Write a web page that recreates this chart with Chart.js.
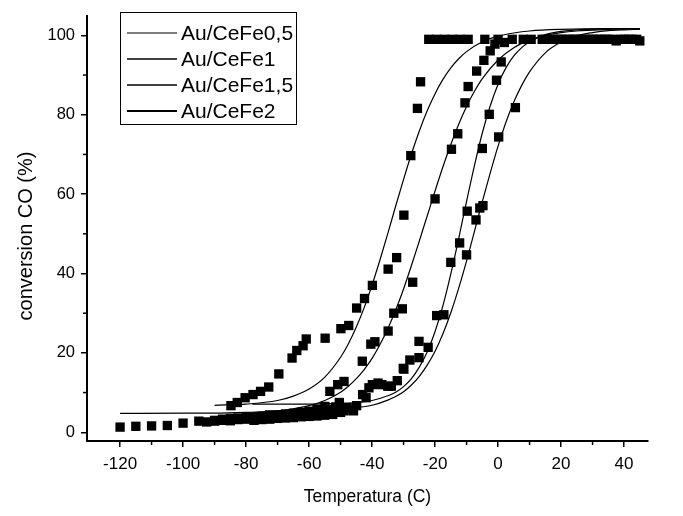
<!DOCTYPE html>
<html><head><meta charset="utf-8">
<script src="https://cdn.jsdelivr.net/npm/chart.js@4/dist/chart.umd.min.js"></script>
<style>html,body{margin:0;padding:0;background:#fff}canvas{display:block}</style>
</head><body>
<canvas id="c" width="683" height="516"></canvas>
<script>
// ---- names and tick labels ----
const seriesNames = ['Au/CeFe0,5', 'Au/CeFe1', 'Au/CeFe1,5', 'Au/CeFe2'];
const xTitle = 'Temperatura (C)';
const yTitle = 'conversion CO (%)';
const xTicks = [-120, -100, -80, -60, -40, -20, 0, 20, 40];
const yTicks = [0, 20, 40, 60, 80, 100];
const xMinor = [-110, -90, -70, -50, -30, -10, 10, 30];
const yMinor = [10, 30, 50, 70, 90];

// ---- measured points (temperature, conversion) ----
const xA = [-84.8,-82.8,-80.3,-77.8,-75.4,-72.8,-69.6,-65.4,-63.9,-61.9,-60.9,-54.9,-49.9,-47.4,-44.9,-42.4,-39.9,-34.9,-32.2,-29.9,-27.7,-25.6,-24.6,-22,-19.5,-17,-14.5,-12,-9.5];
const yA = [6.7,7.5,8.7,9.5,10.3,11.4,14.7,18.7,20.6,21.8,23.5,23.7,26.1,26.9,31.3,33.7,37,41.1,44,54.7,69.7,81.6,88.3,99,99,99,99,99,99];

const xB = [-120,-115,-110,-105,-100,-95,-90,-87.5,-85,-82.5,-80,-77.5,-75,-72.5,-70,-67.5,-65,-62.5,-60,-57.5,-55,-53.4,-50.9,-48.9,-43.1,-40.4,-39.1,-34.9,-33.1,-30.4,-27.1,-20,-14.8,-12.8,-10.5,-9.5,-6.8,-4.5,-2.5,-1,0];
const yB = [1.3,1.5,1.6,1.7,2.3,2.8,3.0,3.3,3.5,3.6,3.8,3.9,4.0,4.2,4.3,4.6,4.8,5.0,5.3,5.8,6.5,10.3,12.0,12.8,17.9,22.2,22.8,25.5,30.0,31.1,37.8,58.8,71.3,75.2,83.0,87.1,91.0,93.7,96.1,97.8,99];

const xC = [-76.3,-73.9,-71.5,-69.4,-67,-65.4,-63,-61.9,-60,-57.9,-55.5,-53.9,-51.5,-50.4,-47.9,-45.9,-44.9,-41.9,-39.9,-36.9,-33.9,-30.1,-28,-25.1,-19.5,-15,-12.2,-9.8,-5,-4.2,-2.8,-0.5,1,2,4.5,8,14,16.5,19,21.5,24,26.5,29,31.5,34,36.5,39,41.5,44];
const yC = [3.4,3.8,4.1,4.2,4.4,4.2,4.5,4.6,4.9,4.6,5.0,5.8,6.4,7.5,6.2,5.4,6.7,8.7,12.0,12.0,11.6,16.1,18.2,22.9,29.4,42.8,47.7,55.7,71.5,99,80.1,88.7,93.3,98.2,99,99,99,99,99,99,99,99,99,99,99,99,99,99,99];

const xD = [-92.5,-90,-87.5,-85,-82.5,-80,-77.5,-75,-72.5,-70,-67.5,-65,-62.5,-60,-57.5,-55,-52.5,-50,-48.9,-46,-43,-41,-38.1,-35,-32,-29.9,-25.1,-22.2,-17.2,-10,-7,-5.8,-4.8,0.2,5.5,10.5,15,17.5,20,22.5,25,27.5,30,32.5,35,37.5,40,42.5,45];
const yD = [2.6,2.8,3.0,2.9,3.2,3.3,3.0,3.2,3.3,3.5,3.6,3.7,3.9,4.0,4.1,4.3,4.5,5.0,5.4,5.6,9.5,11.2,12.4,11.6,13.0,15.9,18.8,21.4,29.6,44.7,53.5,56.5,57.1,74.4,81.8,99,99,99,99,99,99,99,99,99,99,98.6,99,99,98.6];

// ---- fitted curves ----
const fitAx = [-90,-80,-70,-65,-60,-55,-50,-47.5,-45,-42.5,-40,-37.5,-35,-32.5,-30,-27.5,-25,-22.5,-20,-17.5,-15,-12.5,-10,-5,0,5,10,20,35,45];
const fitAy = [6.8,7.1,8.0,9.1,10.9,13.9,18.9,22.3,26.5,31.4,37.1,43.4,50.1,57.0,63.7,70.1,75.9,81.0,85.3,88.9,91.8,94.1,95.9,98.4,99.8,100.6,101.1,101.5,101.7,101.7];

const fitBx = [-120,-100,-90,-80,-70,-65,-60,-55,-50,-47.5,-45,-42.5,-40,-37.5,-35,-32.5,-30,-27.5,-25,-22.5,-20,-17.5,-15,-12.5,-10,-7.5,-5,0,5,10,15,20,25,30,35,45];
const fitBy = [4.75,4.8,4.8,5.0,5.4,5.9,6.7,8.0,10.1,11.6,13.5,15.8,18.6,22.1,26.1,30.8,36.1,42.0,48.2,54.5,60.8,66.9,72.5,77.6,82.1,85.9,89.1,93.8,96.9,98.8,100.0,100.7,101.1,101.3,101.5,101.65];

const fitCx = [-78,-70,-60,-55,-50,-45,-40,-35,-32.5,-30,-27.5,-25,-22.5,-20,-17.5,-15,-12.5,-10,-7.5,-5,-2.5,0,2.5,5,7.5,10,15,20,25,35,45];
const fitCy = [7.1,7.1,7.1,7.2,7.3,7.5,8.0,9.2,10.1,11.5,13.5,16.4,20.2,25.4,31.9,39.9,48.8,58.2,67.2,75.4,82.2,87.7,91.8,94.8,96.9,98.4,100.2,101.0,101.4,101.6,101.7];

const fitDx = [-74,-70,-60,-55,-50,-45,-40,-35,-32.5,-30,-27.5,-25,-22.5,-20,-17.5,-15,-12.5,-10,-7.5,-5,-2.5,0,2.5,5,7.5,10,15,20,25,30,35,40,45];
const fitDy = [5.4,5.4,5.5,5.6,5.8,6.2,6.8,8.1,9.0,10.2,11.9,14.1,16.9,20.4,24.8,30.1,36.3,43.2,50.6,58.1,65.3,72.1,78.1,83.2,87.4,90.8,95.6,98.3,99.9,100.7,101.2,101.4,101.5];

const pts = (xs, ys) => xs.map((x, i) => ({x, y: ys[i]}));
const legendWidths = [1.0, 1.6, 1.3, 1.8];

const fitSets = [[fitAx, fitAy], [fitBx, fitBy], [fitCx, fitCy], [fitDx, fitDy]].map((f, i) => ({
  label: seriesNames[i], data: pts(f[0], f[1]), showLine: true, pointRadius: 0,
  borderColor: '#000', borderWidth: 1.2, cubicInterpolationMode: 'monotone', fill: false, order: 0
}));
const markSets = [[xA, yA], [xB, yB], [xC, yC], [xD, yD]].map((s, i) => ({
  label: seriesNames[i] + ' data', data: pts(s[0], s[1]), showLine: false,
  pointStyle: 'rect', pointRadius: 6.6, pointHoverRadius: 6.6,
  backgroundColor: '#000', borderColor: '#000', borderWidth: 0, order: 1
}));

const FONT = '"Liberation Sans", Arial, Helvetica, sans-serif';
Chart.defaults.font.family = FONT;
Chart.defaults.color = '#000';

const extras = {
  id: 'extras',
  afterDraw(chart) {
    const ctx = chart.ctx, sx = chart.scales.x, sy = chart.scales.y;
    ctx.save();
    ctx.strokeStyle = '#000'; ctx.lineWidth = 1.5;
    xMinor.forEach(v => { const p = sx.getPixelForValue(v); ctx.beginPath(); ctx.moveTo(p, sx.top); ctx.lineTo(p, sx.top + 4); ctx.stroke(); });
    yMinor.forEach(v => { const p = sy.getPixelForValue(v); ctx.beginPath(); ctx.moveTo(sy.right, p); ctx.lineTo(sy.right - 4, p); ctx.stroke(); });
    // y-axis title
    ctx.fillStyle = '#000';
    ctx.save();
    ctx.translate(26, 236); ctx.rotate(-Math.PI / 2);
    ctx.font = '20px ' + FONT; ctx.textAlign = 'center'; ctx.textBaseline = 'middle';
    ctx.fillText(yTitle, 0, 0);
    ctx.restore();
    // legend box
    ctx.fillStyle = '#fff';
    ctx.fillRect(120, 12, 177, 113);
    ctx.lineWidth = 1; ctx.strokeRect(120.5, 12.5, 176, 112);
    ctx.fillStyle = '#000';
    ctx.font = '21px ' + FONT;
    ctx.textBaseline = 'middle'; ctx.textAlign = 'left';
    seriesNames.forEach((n, i) => {
      const y = 33 + i * 26;
      ctx.lineWidth = legendWidths[i];
      ctx.beginPath(); ctx.moveTo(127, y); ctx.lineTo(177, y); ctx.stroke();
      ctx.fillText(n, 181, y + 1);
    });
    ctx.restore();
  }
};

new Chart(document.getElementById('c'), {
  type: 'scatter',
  data: { datasets: [...fitSets, ...markSets] },
  options: {
    responsive: false, animation: false,
    layout: { padding: { top: 6, right: 35, left: 0, bottom: 0 } },
    plugins: { legend: { display: false }, tooltip: { enabled: false } },
    scales: {
      x: {
        type: 'linear', min: -130.5, max: 47.6,
        afterBuildTicks: s => { s.ticks = xTicks.map(v => ({value: v})); },
        afterFit: s => { s.height = 75; },
        grid: { drawOnChartArea: false, drawTicks: true, tickLength: 6, color: '#000', lineWidth: 1.5 },
        border: { display: true, color: '#000', width: 2 },
        ticks: { autoSkip: false, maxRotation: 0, padding: 7, font: { size: 17 }, color: '#000' },
        title: { display: true, text: xTitle, font: { size: 17.5 }, color: '#000', padding: { top: 0, bottom: 8 } }
      },
      y: {
        type: 'linear', min: -2.2, max: 104.9,
        afterBuildTicks: s => { s.ticks = yTicks.map(v => ({value: v})); },
        afterFit: s => { s.width = 87; },
        grid: { drawOnChartArea: false, drawTicks: true, tickLength: 6, color: '#000', lineWidth: 1.5 },
        border: { display: true, color: '#000', width: 2 },
        ticks: { padding: 6, font: { size: 16.5 }, color: '#000' },
        title: { display: false }
      }
    }
  },
  plugins: [extras]
});
</script>
</body></html>
